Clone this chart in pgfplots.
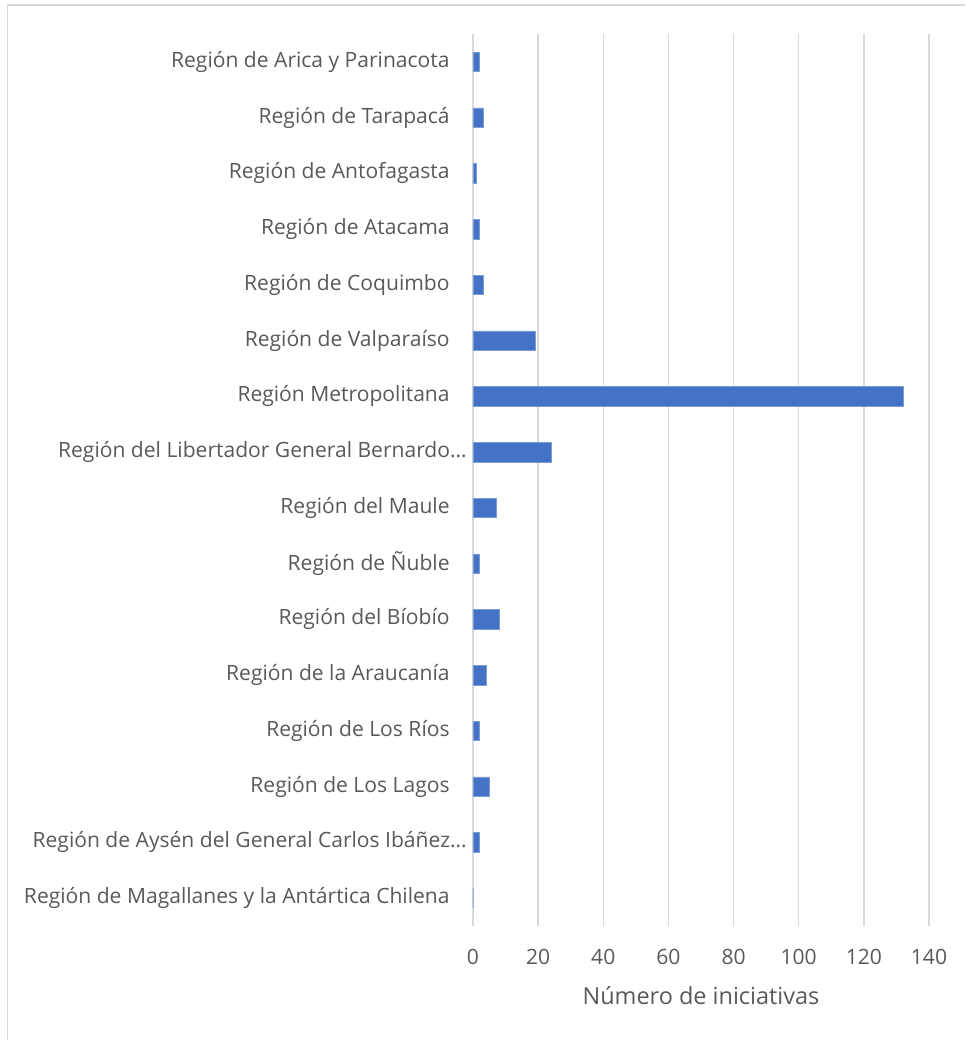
\documentclass[border=0pt]{standalone}
\usepackage{fontspec}
\setmainfont{Open Sans}
\usepackage{pgfplots}
\pgfplotsset{compat=1.18}
\definecolor{barblue}{HTML}{4472C4}
\definecolor{gridgray}{HTML}{D9D9D9}
\definecolor{labgray}{HTML}{595959}

\begin{document}
\begin{tikzpicture}
% page = 965 x 1040 px at 0.75pt per px, y measured upward
\useasboundingbox (0pt,0pt) rectangle (723.75pt,780pt);
\draw[gridgray, line width=1.1pt] (5.6pt,0pt) -- (5.6pt,776.2pt) -- (723.75pt,776.2pt);
\begin{axis}[
    at={(354.75pt,85.5pt)}, anchor=south west,
    scale only axis,
    width=342pt, height=669pt,
    xbar,
    bar width=14.5pt,
    xmin=0, xmax=140,
    ymin=-0.5, ymax=15.5,
    y dir=reverse,
    xtick={0,20,...,140},
    ytick={0,...,15},
    % truncated labels run closer to the axis, as in the source
    yticklabels={
        Región de Arica y Parinacota,
        Región de Tarapacá,
        Región de Antofagasta,
        Región de Atacama,
        Región de Coquimbo,
        Región de Valparaíso,
        Región Metropolitana,
        Región del Libertador General Bernardo…\hspace*{-12.75pt},
        Región del Maule,
        Región de Ñuble,
        Región del Bíobío,
        Región de la Araucanía,
        Región de Los Ríos,
        Región de Los Lagos,
        Región de Aysén del General Carlos Ibáñez…\hspace*{-12.75pt},
        Región de Magallanes y la Antártica Chilena},
    major tick length=0pt,
    axis line style={draw=none},
    xmajorgrids,
    major grid style={gridgray, line width=1.1pt},
    ticklabel style={font=\fontsize{15.8}{18}\selectfont, text=labgray},
    yticklabel style={xshift=-14pt},
    xticklabel style={yshift=-14pt},
    /pgf/number format/assume math mode=true,
    xlabel={Número de iniciativas},
    xlabel style={font=\fontsize{17.6}{21}\selectfont, text=labgray, yshift=-9pt},
]
\addplot[fill=barblue, draw=barblue!70!white, line width=0.4pt] coordinates {
    (2,0) (3,1) (1,2) (2,3) (3,4) (19,5) (132,6) (24,7)
    (7,8) (2,9) (8,10) (4,11) (2,12) (5,13) (2,14) (0,15)
};
\end{axis}
\end{tikzpicture}
\end{document}
